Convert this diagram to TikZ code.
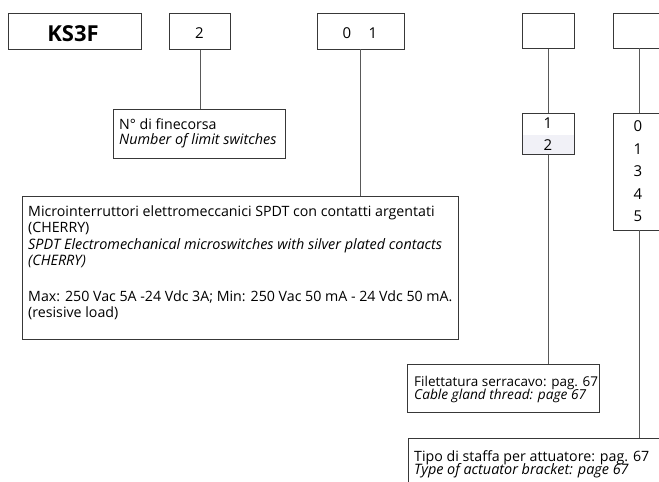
\documentclass[tikz,border=0pt]{standalone}
\usepackage{fontspec}
\setmainfont{Open Sans}
\begin{document}
\begin{tikzpicture}[x=1pt,y=-1pt,
  box/.style={draw=black!78,line width=0.9pt,rectangle,inner sep=0pt,anchor=north west},
  conn/.style={draw=black!65,line width=0.9pt},
  txt/.style={anchor=base west,inner sep=0pt,font=\fontsize{14.2}{15}\selectfont},
  itx/.style={txt,font=\fontsize{14.4}{15}\selectfont\itshape},
  lab/.style={anchor=base,inner sep=0pt,font=\fontsize{15}{18}\selectfont},
]
\useasboundingbox[clip] (0,0) rectangle (659,482);
% top code boxes
\node[box,minimum width=133pt,minimum height=36pt] (k) at (8,13) {};
\node[box,minimum width=61pt,minimum height=36pt] (b2) at (169,13) {};
\node[box,minimum width=87pt,minimum height=36pt] (b01) at (317,13) {};
\node[box,minimum width=52pt,minimum height=35pt] (b3) at (522,13) {};
\node[box,minimum width=90pt,minimum height=35pt] (b4) at (613,13) {};
\node[anchor=base,inner sep=0pt,font=\fontsize{22}{26}\bfseries\selectfont] (kt) at (73,41.7) {KS3F};
\node[lab] (t2) at (199.5,38) {2};
\node[lab] (t0) at (347,38) {0};
\node[lab] (t1) at (373,38) {1};
% option boxes
\fill[fill={rgb,255:red,241;green,241;blue,247}] (522,135) rectangle (574,154);
\node[box,minimum width=52pt,minimum height=41pt] (o12) at (522,113) {};
\node[lab] (o1) at (548,128) {1};
\node[lab] (o2) at (548,150.5) {2};
\node[box,minimum width=90pt,minimum height=117pt] (o5) at (613,113) {};
\node[lab] (p0) at (638,131.7) {0};
\node[lab] (p1) at (638,154) {1};
\node[lab] (p3) at (638,176.7) {3};
\node[lab] (p4) at (638,199) {4};
\node[lab] (p5) at (638,221.7) {5};
% description boxes
\node[box,minimum width=172pt,minimum height=49pt] (fin) at (113,109) {};
\node[txt] (fa) at (119,129) {N° di finecorsa};
\node[itx] (fb) at (119,144.5) {Number of limit switches};
\node[box,minimum width=436pt,minimum height=143pt] (big) at (22,196) {};
\node[txt] (ba) at (28,216) {Microinterruttori elettromeccanici SPDT con contatti argentati};
\node[txt] (bb) at (28,232.5) {(CHERRY)};
\node[itx] (bc) at (28,249) {SPDT Electromechanical microswitches with silver plated contacts};
\node[itx] (bd) at (28,265) {(CHERRY)};
\node[txt] (be) at (28,301) {Max: 250 Vac 5A -24 Vdc 3A; Min: 250 Vac 50 mA - 24 Vdc 50 mA.};
\node[txt] (bf) at (28,317) {(resisive load)};
\node[box,minimum width=192pt,minimum height=48pt] (fil) at (407,364) {};
\node[txt,font=\fontsize{13.5}{15}\selectfont] (la) at (414,386) {Filettatura serracavo: pag. 67};
\node[itx,font=\fontsize{13.7}{15}\selectfont\itshape] (lb) at (414,399.5) {Cable gland thread: page 67};
\node[box,minimum width=320pt,minimum height=80pt] (tipo) at (408,438) {};
\node[txt,font=\fontsize{14.2}{15}\selectfont] (ta) at (414,461) {Tipo di staffa per attuatore: pag. 67};
\node[itx] (tb) at (414,474.5) {Type of actuator bracket: page 67};
% connectors
\draw[conn] (b2.south) -- (b2.south |- fin.north);
\draw[conn] (360,49) coordinate (s01) -- (s01 |- big.north);
\draw[conn] (b3.south) -- (o12.north);
\draw[conn] (o12.south) -- (o12.south |- fil.north);
\draw[conn] (639,48) coordinate (s4) -- (s4 |- o5.north);
\draw[conn] (639,230) coordinate (s5) -- (s5 |- tipo.north);
\end{tikzpicture}
\end{document}
